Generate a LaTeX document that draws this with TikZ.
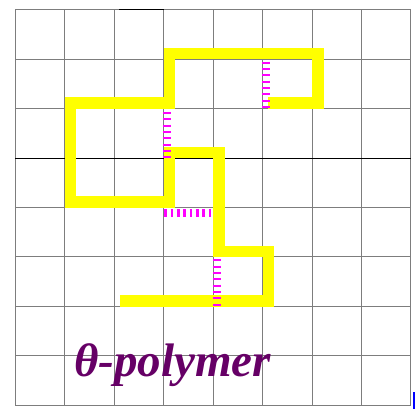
\documentclass[tikz,border=0pt]{standalone}
\usepackage{fontspec}
\setmainfont{Liberation Serif}
\definecolor{polyyellow}{RGB}{255,255,0}
\definecolor{contactmag}{RGB}{255,0,255}
\definecolor{labelpurple}{RGB}{102,0,102}
\definecolor{gridgray}{RGB}{125,125,125}
\tikzset{
  gridline/.style={draw=gridgray, line width=1pt},
  polymer/.style={draw=polyyellow, line width=11.6pt, line join=miter, line cap=butt},
  contactv/.style={draw=contactmag, line width=8pt, dash pattern=on 2pt off 4.33pt},
  contacth/.style={draw=contactmag, line width=8pt, dash pattern=on 2.6pt off 3.73pt},
}
\begin{document}
\begin{tikzpicture}[x=1pt,y=-1pt]
\useasboundingbox (0,0) rectangle (415,411);
% grid
\begin{scope}[xshift=15.3pt, yshift=-9.7pt, x=49.45pt, y=-49.45pt]
  \foreach \i in {0,...,8} {
    \draw[gridline] (\i,0) -- (\i,8);
    \draw[gridline] (0,\i) -- (8,\i);
  }
  \draw[black, line width=1pt] (0,3) -- (8,3);
  \draw[black, line width=1pt] (2.1,0) -- (3,0);
\end{scope}
% polymer chain
\begin{scope}[xshift=21.1pt, yshift=-4.2pt, x=49.45pt, y=-49.45pt]
  \draw[polymer] (2,6) -- (5,6) -- (5,5) -- (4,5) -- (4,3) -- (3,3) -- (3,4)
    -- (1,4) -- (1,2) -- (3,2) -- (3,1) -- (6,1) -- (6,2) -- (5,2);
\end{scope}
% contacts
\coordinate (c1a) at (167,112);   \coordinate (c1b) at (167,158.5);
\coordinate (c2a) at (266.2,61.7); \coordinate (c2b) at (266.2,108.5);
\coordinate (c3a) at (164.3,213); \coordinate (c3b) at (211.5,213);
\coordinate (c4a) at (216.7,259.3); \coordinate (c4b) at (216.7,306);
\draw[contactv] (c1a) -- (c1b);
\draw[contactv] (c2a) -- (c2b);
\draw[contacth] (c3a) -- (c3b);
\draw[contactv] (c4a) -- (c4b);
% label
\node[anchor=base west, inner sep=0pt, text=labelpurple, font=\fontsize{47}{50}\selectfont\bfseries\itshape] (lbl) at (74,376.7) {θ-polymer};
% blue fragment at corner
\fill[blue] (413.4,392) rectangle (415,409);
\end{tikzpicture}
\end{document}
